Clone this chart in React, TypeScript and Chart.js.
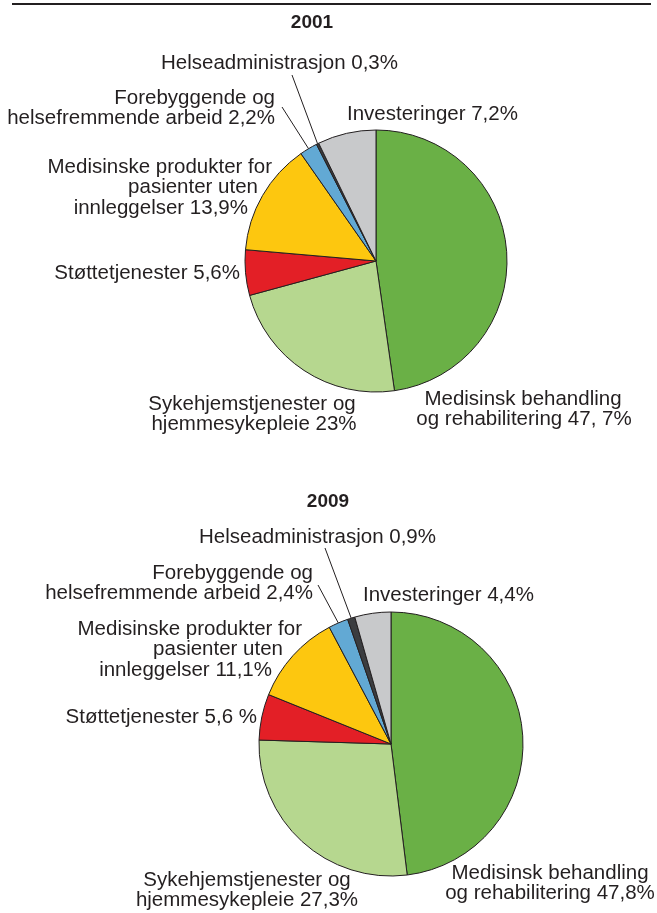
import React, { useEffect, useRef } from "react";
import { Chart, registerables } from "chart.js";

Chart.register(...registerables);

// ---- data ----
const categories = [
  "Medisinsk behandling og rehabilitering",
  "Sykehjemstjenester og hjemmesykepleie",
  "Støttetjenester",
  "Medisinske produkter for pasienter uten innleggelser",
  "Forebyggende og helsefremmende arbeid",
  "Helseadministrasjon",
  "Investeringer",
];
const values2001 = [47.7, 23, 5.6, 13.9, 2.2, 0.3, 7.2];
const values2009 = [47.8, 27.3, 5.6, 11.1, 2.4, 0.9, 4.4];
const labels2001 = [
  ["Medisinsk behandling", "og rehabilitering 47, 7%"],
  ["Sykehjemstjenester og", "hjemmesykepleie 23%"],
  ["Støttetjenester 5,6%"],
  ["Medisinske produkter for", "pasienter uten", "innleggelser 13,9%"],
  ["Forebyggende og", "helsefremmende arbeid 2,2%"],
  ["Helseadministrasjon 0,3%"],
  ["Investeringer 7,2%"],
];
const labels2009 = [
  ["Medisinsk behandling", "og rehabilitering 47,8%"],
  ["Sykehjemstjenester og", "hjemmesykepleie 27,3%"],
  ["Støttetjenester 5,6 %"],
  ["Medisinske produkter for", "pasienter uten", "innleggelser 11,1%"],
  ["Forebyggende og", "helsefremmende arbeid 2,4%"],
  ["Helseadministrasjon 0,9%"],
  ["Investeringer 4,4%"],
];
const titles = ["2001", "2009"];

const colors = ["#6ab046", "#b6d78f", "#e31f26", "#fdc70f", "#62a9d4", "#3b3d40", "#c8c9cb"];
const TEXT = "#231f20";
const W = 657;
const H = 913;
const FONT = '20.5px "Liberation Sans", Arial, Helvetica, sans-serif';
const BOLD = 'bold 19px "Liberation Sans", Arial, Helvetica, sans-serif';

// ---- layout (positions of pies and label text) ----
type LabelPos = {
  x: number[]; // per line anchor x
  y: number; // first line centre y
  align: CanvasTextAlign;
  leader?: [number, number];
};
type Layout = {
  cx: number;
  cy: number;
  r: number;
  title: [number, number];
  labels: LabelPos[];
  topRule?: boolean;
};

const layout2001: Layout = {
  cx: 376,
  cy: 261,
  r: 131,
  title: [312, 23],
  topRule: true,
  labels: [
    { x: [523, 524], y: 399, align: "center" },
    { x: [252, 254], y: 404, align: "center" },
    { x: [240], y: 273, align: "right" },
    { x: [272, 258, 248], y: 167, align: "right" },
    { x: [275, 275], y: 98, align: "right", leader: [282, 107] },
    { x: [398], y: 63, align: "right", leader: [292, 75] },
    { x: [347], y: 114, align: "left" },
  ],
};

const layout2009: Layout = {
  cx: 391,
  cy: 744,
  r: 132,
  title: [328, 502],
  labels: [
    { x: [550, 550], y: 873, align: "center" },
    { x: [247, 247], y: 880, align: "center" },
    { x: [257], y: 717, align: "right" },
    { x: [302, 283, 272], y: 629, align: "right" },
    { x: [313, 313], y: 573, align: "right", leader: [318, 585] },
    { x: [436], y: 537, align: "right", leader: [325, 548] },
    { x: [363], y: 595, align: "left" },
  ],
};

const LINE_H = 20.5;

function makeLabelPlugin(lay: Layout, texts: string[][], title: string) {
  return {
    id: "pieLabels",
    afterDraw(chart: any) {
      const ctx = chart.ctx as CanvasRenderingContext2D;
      ctx.save();
      if (lay.topRule) {
        ctx.strokeStyle = TEXT;
        ctx.lineWidth = 2;
        ctx.beginPath();
        ctx.moveTo(12, 4);
        ctx.lineTo(651, 4);
        ctx.stroke();
      }
      ctx.fillStyle = TEXT;
      ctx.textBaseline = "middle";
      ctx.font = BOLD;
      ctx.textAlign = "center";
      ctx.fillText(title, lay.title[0], lay.title[1]);

      ctx.font = FONT;
      const meta = chart.getDatasetMeta(0);
      lay.labels.forEach((lp, i) => {
        ctx.textAlign = lp.align;
        texts[i].forEach((line, li) => {
          ctx.fillText(line, lp.x[li] ?? lp.x[0], lp.y + li * LINE_H);
        });
        if (lp.leader) {
          const arc = meta.data[i];
          const p = arc.getProps(["x", "y", "startAngle", "endAngle", "outerRadius"], true);
          const mid = (p.startAngle + p.endAngle) / 2;
          const ex = p.x + Math.cos(mid) * p.outerRadius;
          const ey = p.y + Math.sin(mid) * p.outerRadius;
          ctx.strokeStyle = TEXT;
          ctx.lineWidth = 1;
          ctx.beginPath();
          ctx.moveTo(lp.leader[0], lp.leader[1]);
          ctx.lineTo(ex, ey);
          ctx.stroke();
        }
      });
      ctx.restore();
    },
  };
}

function PieCanvas({ values, texts, lay, title }: { values: number[]; texts: string[][]; lay: Layout; title: string }) {
  const ref = useRef<HTMLCanvasElement>(null);
  useEffect(() => {
    if (!ref.current) return;
    const chart = new Chart(ref.current, {
      type: "pie",
      data: {
        labels: categories,
        datasets: [
          {
            data: values,
            backgroundColor: colors,
            borderColor: TEXT,
            borderWidth: 1,
          },
        ],
      },
      options: {
        responsive: false,
        animation: false,
        devicePixelRatio: 1,
        radius: lay.r,
        layout: {
          padding: {
            left: lay.cx - lay.r,
            right: W - (lay.cx + lay.r),
            top: lay.cy - lay.r,
            bottom: H - (lay.cy + lay.r),
          },
        },
        plugins: {
          legend: { display: false },
          tooltip: { enabled: false },
          title: { display: false },
        },
      } as any,
      plugins: [makeLabelPlugin(lay, texts, title)],
    });
    return () => chart.destroy();
  }, []);
  return (
    <canvas
      ref={ref}
      width={W}
      height={H}
      style={{ position: "absolute", left: 0, top: 0, width: W, height: H }}
    />
  );
}

export default function App() {
  useEffect(() => {
    document.body.style.margin = "0";
    document.body.style.background = "#ffffff";
  }, []);
  return (
    <div style={{ position: "relative", width: W, height: H, background: "#fff" }}>
      <PieCanvas values={values2001} texts={labels2001} lay={layout2001} title={titles[0]} />
      <PieCanvas values={values2009} texts={labels2009} lay={layout2009} title={titles[1]} />
    </div>
  );
}
